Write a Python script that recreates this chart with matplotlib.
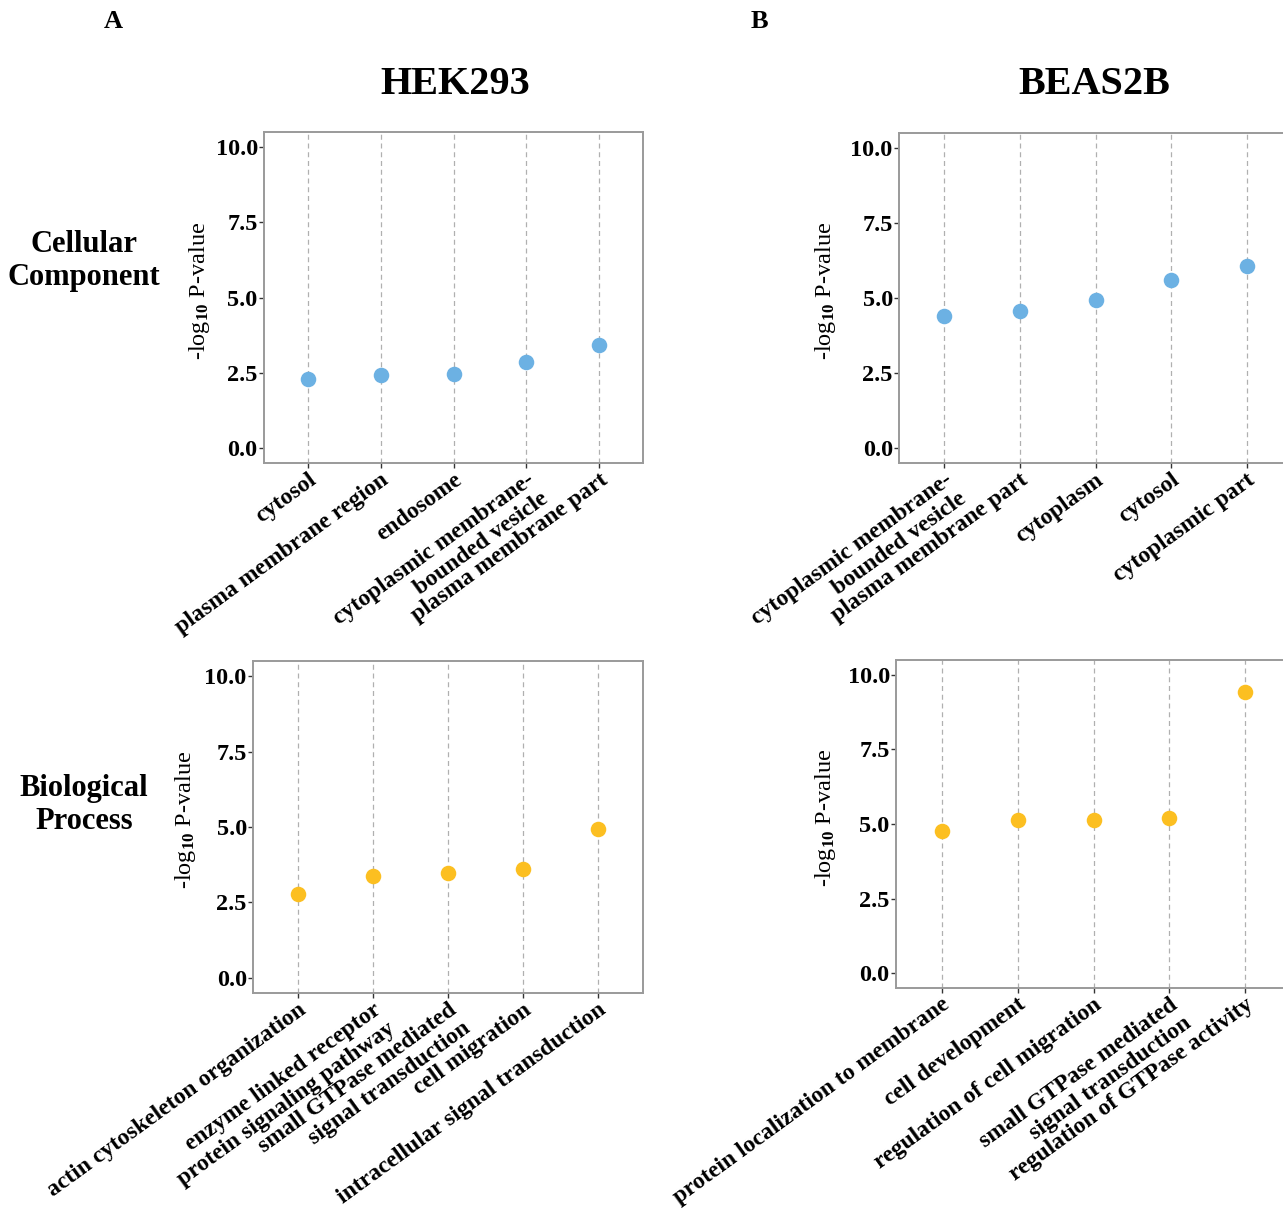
import numpy as np
import matplotlib
matplotlib.use("Agg")
import matplotlib.pyplot as plt

plt.rcParams["font.family"] = ["Liberation Serif", "DejaVu Serif"]
plt.rcParams["font.weight"] = "bold"
plt.rcParams["mathtext.fontset"] = "custom"
plt.rcParams["mathtext.rm"] = "Liberation Serif:bold"
plt.rcParams["mathtext.bf"] = "Liberation Serif:bold"
plt.rcParams["mathtext.it"] = "Liberation Serif:bold:italic"

# data
hek_cc_terms = ["cytosol", "plasma membrane region", "endosome",
                "cytoplasmic membrane-\nbounded vesicle", "plasma membrane part"]
hek_cc_vals = [2.29, 2.44, 2.47, 2.85, 3.42]

beas_cc_terms = ["cytoplasmic membrane-\nbounded vesicle", "plasma membrane part",
                 "cytoplasm", "cytosol", "cytoplasmic part"]
beas_cc_vals = [4.40, 4.57, 4.94, 5.60, 6.08]

hek_bp_terms = ["actin cytoskeleton organization",
                "enzyme linked receptor\nprotein signaling pathway",
                "small GTPase mediated\nsignal transduction",
                "cell migration", "intracellular signal transduction"]
hek_bp_vals = [2.77, 3.36, 3.46, 3.61, 4.93]

beas_bp_terms = ["protein localization to membrane", "cell development",
                 "regulation of cell migration",
                 "small GTPase mediated\nsignal transduction",
                 "regulation of GTPase activity"]
beas_bp_vals = [4.77, 5.13, 5.13, 5.20, 9.43]

yticks = [0.0, 2.5, 5.0, 7.5, 10.0]

BLUE = "#6cb1e3"
YELLOW = "#fcbf21"

W, H = 1283, 1211
fig = plt.figure(figsize=(W / 100, H / 100), dpi=100)


def panel(l, t, r, b, terms, vals, color, ylab_x):
    ax = fig.add_axes([l / W, 1 - b / H, (r - l) / W, (b - t) / H])
    x = np.arange(len(terms))
    ax.scatter(x, vals, s=125, color=color, zorder=3, linewidths=0)
    ax.set_xlim(-0.6, len(terms) - 0.4)
    ax.set_ylim(-0.5, 10.5)
    ax.set_yticks(yticks)
    ax.set_yticklabels(["%.1f" % v for v in yticks], fontsize=17.5)
    ax.set_xticks(x)
    ax.set_xticklabels(terms, rotation=36, ha="right", va="top",
                       rotation_mode="anchor", multialignment="right",
                       fontsize=17, linespacing=1.15)
    ax.grid(axis="x", linestyle=(0, (4, 3)), color="#b0b0b0", linewidth=0.9)
    ax.set_axisbelow(True)
    for s in ax.spines.values():
        s.set_color("#9a9a9a")
        s.set_linewidth(1.4)
    ax.tick_params(axis="both", length=3.5, width=1, color="#333333", pad=1)
    ax.set_ylabel(r"-log$_{10}$ P-value", fontsize=17.5, va="center")
    ax.yaxis.set_label_coords((ylab_x - l) / (r - l), 0.52)
    return ax


panel(264, 132, 643, 463, hek_cc_terms, hek_cc_vals, BLUE, 200)
panel(899, 133, 1292, 463, beas_cc_terms, beas_cc_vals, BLUE, 826)
panel(253, 661, 643, 993, hek_bp_terms, hek_bp_vals, YELLOW, 185)
panel(896, 660, 1291, 988, beas_bp_terms, beas_bp_vals, YELLOW, 826)

fig.text(113 / W, 1 - 22 / H, "A", fontsize=19, ha="center", va="center")
fig.text(759 / W, 1 - 22 / H, "B", fontsize=19, ha="center", va="center")
fig.text(455 / W, 1 - 85 / H, "HEK293", fontsize=29, ha="center", va="center")
fig.text(1094 / W, 1 - 85 / H, "BEAS2B", fontsize=29, ha="center", va="center")
fig.text(84 / W, 1 - 261 / H, "Cellular\nComponent", fontsize=22,
         ha="center", va="center", linespacing=1.2)
fig.text(84 / W, 1 - 805 / H, "Biological\nProcess", fontsize=22,
         ha="center", va="center", linespacing=1.2)

fig.savefig("out.png", dpi=100)
